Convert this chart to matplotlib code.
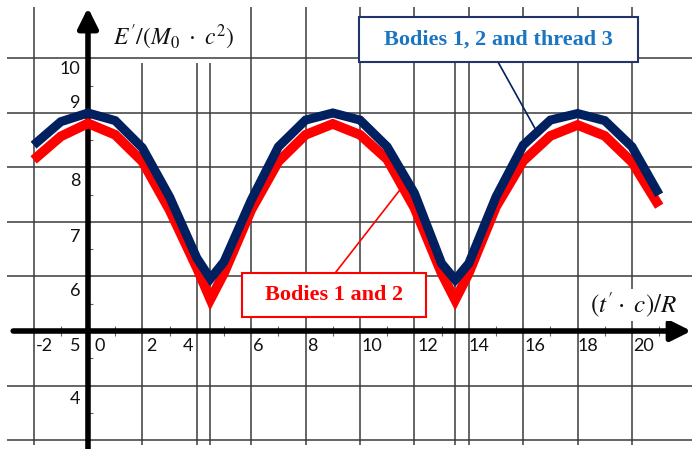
import matplotlib
matplotlib.use("Agg")
import matplotlib.pyplot as plt
from matplotlib.patches import Rectangle

plt.rcParams["mathtext.fontset"] = "stix"

# x = t'c/R, energies E'/(M0 c^2)
t_vals = [-2, -1, 0, 1, 2, 3, 4, 4.5, 5, 6, 7, 8, 9, 10, 11, 12, 13, 13.5,
          14, 15, 16, 17, 18, 19, 20, 21]
e_thread = [8.41, 8.84, 9.0, 8.86, 8.36, 7.46, 6.34, 5.96, 6.27, 7.40, 8.38,
            8.87, 9.0, 8.87, 8.38, 7.53, 6.24, 5.94, 6.24, 7.46, 8.41, 8.87,
            8.99, 8.86, 8.38, 7.50]
e_bodies = [8.14, 8.57, 8.81, 8.60, 8.11, 7.22, 6.16, 5.58, 6.06, 7.22, 8.11,
            8.60, 8.80, 8.60, 8.15, 7.26, 6.06, 5.57, 6.06, 7.28, 8.12, 8.58,
            8.78, 8.58, 8.10, 7.29]

x_tick_labels = ["-2", "0", "2", "4", "6", "8", "10", "12", "14", "16", "18", "20"]
y_tick_labels = ["10", "9", "8", "7", "6", "5", "4"]

grid_x_full = [-2, 6, 8, 10, 12, 14, 16, 18, 20]
grid_x_short = [2, 4, 4.5, 13.5]
grid_y = [3, 4, 6, 7, 8, 9, 10]

fig = plt.figure(figsize=(6.92, 4.49), dpi=100)
ax = fig.add_axes([0, 0, 1, 1])
ax.set_xlim(-3.235, 22.206)
ax.set_ylim(2.835, 11.073)
ax.axis("off")

grid_kw = dict(colors="#3a3a3a", lw=1.1, zorder=1)
ax.vlines(grid_x_full, 2.91, 10.94, **grid_kw)
ax.vlines(grid_x_short, 2.91, 9.92, **grid_kw)
ax.hlines(grid_y, -2.98, 22.3, **grid_kw)

# axes with arrows
arrow_kw = dict(arrowstyle="-|>,head_length=0.6,head_width=0.3", color="k",
                lw=4, mutation_scale=20, shrinkA=0, shrinkB=0)
ax.annotate("", xy=(0, 10.93), xytext=(0, 2.8), arrowprops=arrow_kw, zorder=4)
ax.annotate("", xy=(22.18, 5), xytext=(-2.75, 5), arrowprops=arrow_kw, zorder=4)

# small tick marks
ax.plot(range(-2, 22), [5] * 24, ls="none", marker="|", ms=7, mew=0.8,
        color="#666666", zorder=3)
ax.plot([0.08] * 16, [3 + 0.5 * i for i in range(16)], ls="none", marker="_",
        ms=5, mew=0.8, color="#666666", zorder=3)

# curves
ax.plot(t_vals, e_bodies, color="#ff0000", lw=7, solid_joinstyle="miter",
        solid_capstyle="butt", zorder=6)
ax.plot(t_vals, e_thread, color="#002060", lw=6.5, solid_joinstyle="miter",
        solid_capstyle="butt", zorder=7)

# tick labels (placed as in the hand-made original)
lab_font = dict(family="Lato", fontsize=13, color="#111111", zorder=8)
x_offsets = [0.1, 0.25, 0.15, -0.5, 0.05, 0.05, 0.05, 0.1, 0.0, 0.05, 0.0, 0.05]
for lab, dx in zip(x_tick_labels, x_offsets):
    ax.text(int(lab) + dx, 4.73, lab, ha="left", va="center", **lab_font)
y_offsets = [-0.19, 0.19, -0.25, -0.28, -0.27, -0.27, -0.25]
for lab, dy in zip(y_tick_labels, y_offsets):
    ax.text(-0.28, int(lab) + dy, lab, ha="right", va="center", **lab_font)

ax.text(3.16, 10.38, r"$E^{\prime}/(M_0\ \cdot\ c^2)$", fontsize=17,
        ha="center", va="center", color="#111111", zorder=8)
ax.text(20.07, 5.47, r"$(t'\cdot\ c)/R$", fontsize=18, ha="center",
        va="center", color="#111111", zorder=8,
        bbox=dict(facecolor="white", edgecolor="none", pad=1))

# callouts
ax.plot([15.07, 16.43], [9.94, 8.72], color="#002060", lw=1.2, zorder=9)
ax.plot([9.08, 11.47], [6.06, 7.59], color="#ff0000", lw=1.2, zorder=9)

ax.add_patch(Rectangle((9.96, 9.94), 10.26, 0.82, facecolor="white",
                       edgecolor="#22346b", lw=1.5, zorder=10))
ax.text(15.09, 10.35, "Bodies 1, 2 and thread 3", family="Liberation Serif",
        fontweight="bold", fontsize=16, color="#1a75c2", ha="center",
        va="center", zorder=11)

ax.add_patch(Rectangle((5.66, 5.26), 6.77, 0.80, facecolor="white",
                       edgecolor="#ff0000", lw=1.5, zorder=10))
ax.text(9.05, 5.66, "Bodies 1 and 2", family="Liberation Serif",
        fontweight="bold", fontsize=16, color="#ff0000", ha="center",
        va="center", zorder=11)

fig.savefig("out.png", dpi=100)
